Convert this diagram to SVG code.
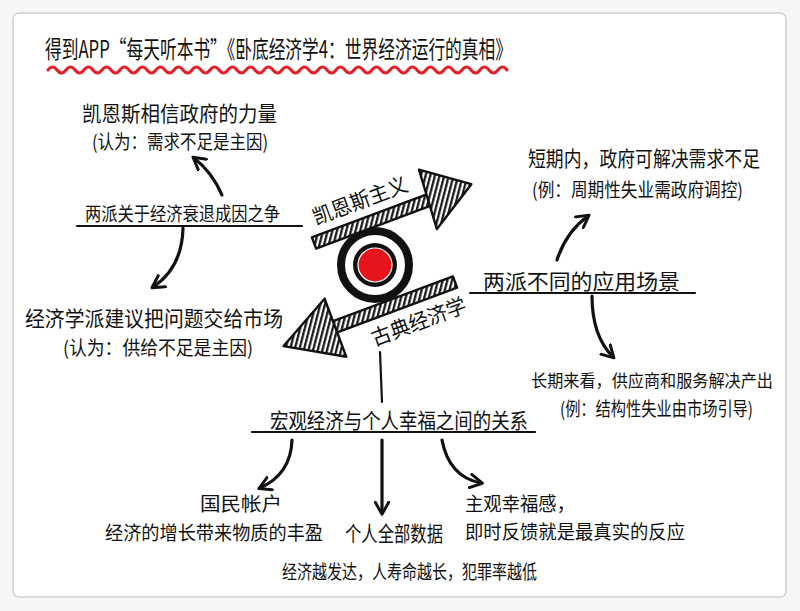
<svg xmlns="http://www.w3.org/2000/svg" width="800" height="611" viewBox="0 0 800 611">
<defs>
<style>
text{font-family:"Noto Sans CJK SC","Noto Sans",sans-serif;fill:#111;}
.t{font-size:21px;}
.s{font-size:19px;}
.ul{stroke:#111;stroke-width:2.2;fill:none;stroke-linecap:round;}
.arr{stroke:#111;stroke-width:3.2;fill:none;stroke-linecap:round;stroke-linejoin:round;}
.hatch{fill:url(#hp);stroke:#111;stroke-width:2.4;stroke-linejoin:round;}
</style>
<pattern id="hp" patternUnits="userSpaceOnUse" width="4.5" height="4.5" patternTransform="rotate(35)">
<rect width="4.5" height="4.5" fill="#fff"/>
<line x1="1.2" y1="0" x2="1.2" y2="4.5" stroke="#111" stroke-width="2.2"/>
</pattern>
<marker id="ah" viewBox="0 0 12 12" refX="9" refY="6" markerWidth="5" markerHeight="5" orient="auto" markerUnits="strokeWidth">
<path d="M1,1 L10,6 L1,11" fill="none" stroke="#111" stroke-width="2.2" stroke-linecap="round" stroke-linejoin="round"/>
</marker>
</defs>
<rect width="800" height="611" fill="#f6f6f6"/>
<rect x="13" y="13" width="773" height="584" rx="6" fill="#fff" stroke="#cfcfcf" stroke-width="1.5"/>

<g id="title">
<text x="45" y="58" font-size="24" textLength="467" lengthAdjust="spacingAndGlyphs">得到APP“每天听本书”《卧底经济学4：世界经济运行的真相》</text>
<path d="M48,70 q4.5,-6 9,0 t9,0 t9,0 t9,0 t9,0 t9,0 t9,0 t9,0 t9,0 t9,0 t9,0 t9,0 t9,0 t9,0 t9,0 t9,0 t9,0 t9,0 t9,0 t9,0 t9,0 t9,0 t9,0 t9,0 t9,0 t9,0 t9,0 t9,0 t9,0 t9,0 t9,0 t9,0 t9,0 t9,0 t9,0 t9,0 t9,0 t9,0 t9,0 t9,0 t9,0 t9,0 t9,0 t9,0 t9,0 t9,0 t9,0 t9,0 t9,0 t9,0 t9,0" fill="none" stroke="#e3202a" stroke-width="3" stroke-linecap="round"/>
</g>

<g id="center">
<circle cx="375" cy="265" r="34" fill="#fff" stroke="#111" stroke-width="8"/>
<circle cx="375" cy="265" r="22" fill="#111"/>
<circle cx="375" cy="265" r="17" fill="#e8141c" stroke="#fff" stroke-width="1.2"/>
</g>

<g id="keynes-arrow" transform="translate(314,243) rotate(-20.5)">
<rect x="0" y="-6" width="124" height="12" class="hatch"/>
<polygon points="124,-32 168,0 120,30" class="hatch"/>
<text x="8" y="-16" font-size="21" textLength="100" lengthAdjust="spacingAndGlyphs">凯恩斯主义</text>
</g>

<g id="classical-arrow" transform="translate(455,282) rotate(-20.5)">
<rect x="-130" y="-6" width="130" height="12" class="hatch"/>
<polygon points="-128,-30 -183,0 -128,32" class="hatch"/>
<text x="-98" y="32" font-size="21" textLength="100" lengthAdjust="spacingAndGlyphs">古典经济学</text>
</g>

<g id="keynes-note">
<text x="82" y="121" class="t" textLength="195" lengthAdjust="spacingAndGlyphs">凯恩斯相信政府的力量</text>
<text x="92" y="149" class="s" textLength="176" lengthAdjust="spacingAndGlyphs">(认为：需求不足是主因)</text>
</g>

<g id="debate">
<text x="85" y="221" class="s" textLength="195" lengthAdjust="spacingAndGlyphs">两派关于经济衰退成因之争</text>
<line x1="77" y1="226" x2="302" y2="226" class="ul"/>
</g>

<g id="classical-note">
<text x="25" y="326" class="t" textLength="258" lengthAdjust="spacingAndGlyphs">经济学派建议把问题交给市场</text>
<text x="63" y="355" class="s" textLength="190" lengthAdjust="spacingAndGlyphs">(认为：供给不足是主因)</text>
</g>

<g id="scenarios">
<text x="483" y="289" class="t" textLength="197" lengthAdjust="spacingAndGlyphs">两派不同的应用场景</text>
<line x1="470" y1="293" x2="695" y2="293" class="ul"/>
</g>

<g id="short-term">
<text x="528" y="166" class="t" textLength="232" lengthAdjust="spacingAndGlyphs">短期内，政府可解决需求不足</text>
<text x="532" y="197" class="s" textLength="211" lengthAdjust="spacingAndGlyphs">(例：周期性失业需政府调控)</text>
</g>

<g id="long-term">
<text x="531" y="387" font-size="17.5" textLength="242" lengthAdjust="spacingAndGlyphs">长期来看，供应商和服务解决产出</text>
<text x="560" y="416" class="s" textLength="193" lengthAdjust="spacingAndGlyphs">(例：结构性失业由市场引导)</text>
</g>

<g id="happiness">
<text x="270" y="428" class="t" textLength="258" lengthAdjust="spacingAndGlyphs">宏观经济与个人幸福之间的关系</text>
<line x1="252" y1="432" x2="535" y2="432" class="ul"/>
</g>

<g id="national-accounts">
<text x="200" y="511" class="s" textLength="82" lengthAdjust="spacingAndGlyphs">国民帐户</text>
<text x="105" y="540" class="s" textLength="218" lengthAdjust="spacingAndGlyphs">经济的增长带来物质的丰盈</text>
</g>

<g id="personal-data">
<text x="345" y="541" class="t" textLength="98" lengthAdjust="spacingAndGlyphs">个人全部数据</text>
<text x="282" y="579" class="s" textLength="255" lengthAdjust="spacingAndGlyphs">经济越发达，人寿命越长，犯罪率越低</text>
</g>

<g id="subjective">
<text x="465" y="511" class="s" textLength="110" lengthAdjust="spacingAndGlyphs">主观幸福感，</text>
<text x="465" y="539" class="s" textLength="220" lengthAdjust="spacingAndGlyphs">即时反馈就是最真实的反应</text>
</g>

<g id="connectors">
<path d="M222,195 Q212,172 194,158" class="arr" marker-end="url(#ah)"/>
<path d="M183,228 Q182,268 153,287" class="arr" marker-end="url(#ah)"/>
<path d="M557,260 Q566,232 588,216" class="arr" marker-end="url(#ah)"/>
<path d="M592,296 Q592,336 613,357" class="arr" marker-end="url(#ah)"/>
<line x1="380" y1="352" x2="382" y2="402" class="ul"/>
<path d="M292,440 Q291,474 260,488" class="arr" marker-end="url(#ah)"/>
<path d="M382,440 L382,513" class="arr" marker-end="url(#ah)"/>
<path d="M442,440 Q449,477 481,483" class="arr" marker-end="url(#ah)"/>
</g>
</svg>
